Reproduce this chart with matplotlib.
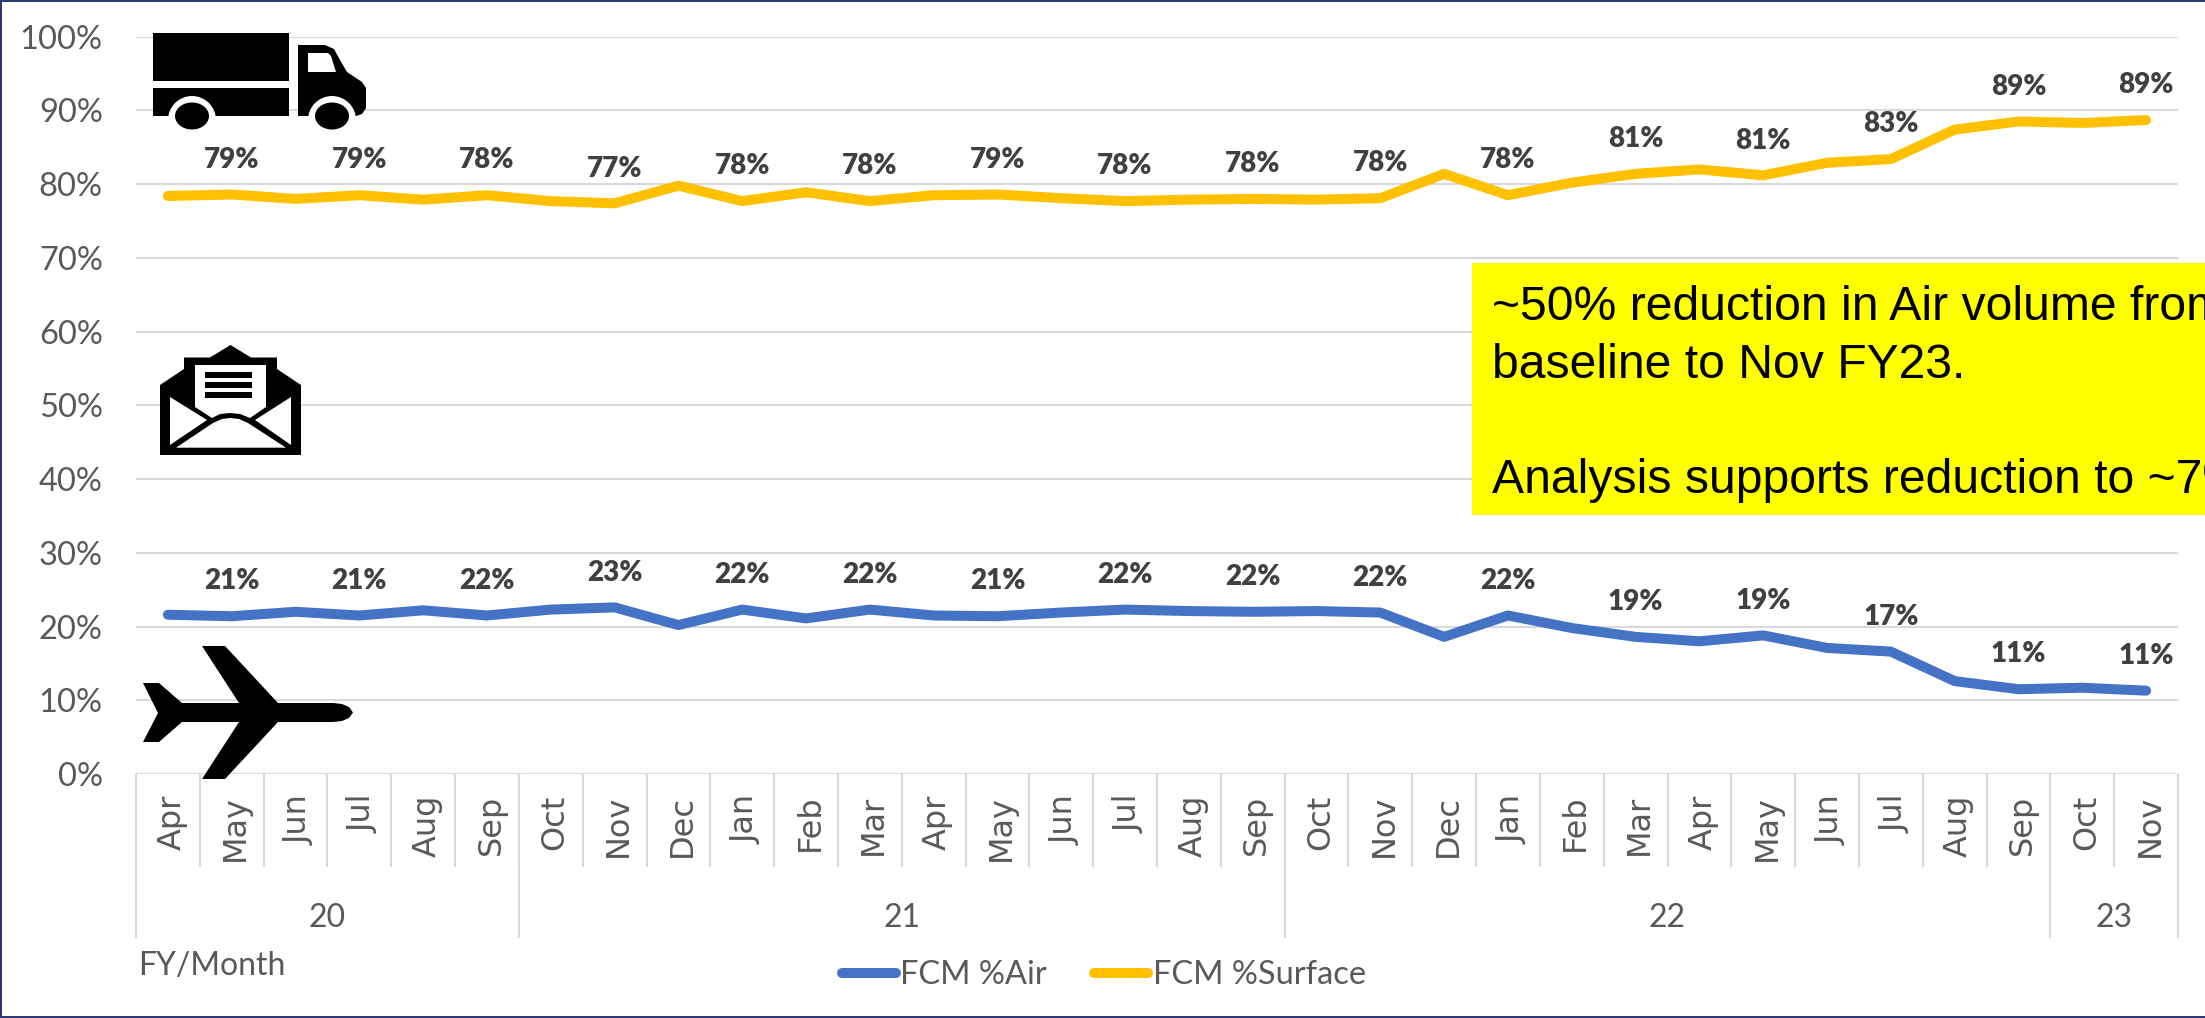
import matplotlib

matplotlib.use("Agg")
import numpy as np
import matplotlib.pyplot as plt
from matplotlib.patches import Ellipse, Polygon, Rectangle
from matplotlib.transforms import ScaledTranslation

months = ["Apr", "May", "Jun", "Jul", "Aug", "Sep",
          "Oct", "Nov", "Dec", "Jan", "Feb", "Mar", "Apr", "May", "Jun", "Jul", "Aug", "Sep",
          "Oct", "Nov", "Dec", "Jan", "Feb", "Mar", "Apr", "May", "Jun", "Jul", "Aug", "Sep",
          "Oct", "Nov"]
fy_labels = ["20", "21", "22", "23"]
fy_lengths = [6, 12, 12, 2]

air_pct = [21.6, 21.4, 22.0, 21.5, 22.2, 21.5, 22.3, 22.6, 20.2, 22.3, 21.1, 22.3, 21.5, 21.4, 21.9, 22.3,
           22.1, 22.0, 22.1, 21.9, 18.6, 21.5, 19.8, 18.6, 18.0, 18.8, 17.1, 16.6, 12.6, 11.5, 11.7, 11.3]
surface_pct = [78.4, 78.6, 78.0, 78.5, 77.9, 78.5, 77.7, 77.4, 79.8, 77.7, 78.9, 77.7, 78.5, 78.6, 78.1, 77.7,
               77.9, 78.0, 77.9, 78.1, 81.4, 78.5, 80.2, 81.4, 82.0, 81.2, 82.9, 83.4, 87.4, 88.5, 88.3, 88.7]

# only every second month has a label, starting from May
air_labels = ["21%", "21%", "22%", "23%", "22%", "22%", "21%", "22%",
              "22%", "22%", "22%", "19%", "19%", "17%", "11%", "11%"]
surface_labels = ["79%", "79%", "78%", "77%", "78%", "78%", "79%", "78%",
                  "78%", "78%", "78%", "81%", "81%", "83%", "89%", "89%"]

note_lines = ["~50% reduction in Air volume from", "baseline to Nov FY23.", "",
              "Analysis supports reduction to ~7%"]

W, H = 2205, 1018
GRID = "#D9D9D9"
TICK = "#595959"
LABEL = "#404040"
BLUE = "#4472C4"
GOLD = "#FFC000"
NAVY = "#2F3A6E"

plt.rcParams["font.family"] = ["Lato", "DejaVu Sans"]

fig = plt.figure(figsize=(W / 100, H / 100), dpi=100)
ax = fig.add_axes([136 / W, 1 - 774 / H, (2178 - 136) / W, (774 - 36.7) / H])

x = np.arange(len(months))
ax.set_xlim(-0.5, len(months) - 0.5)
ax.set_ylim(0, 100)
ax.set_yticks(np.arange(0, 101, 10))
ax.set_yticklabels([f"{v}%" for v in range(0, 101, 10)], fontsize=23.5, color=TICK)
ax.tick_params(axis="y", length=0, pad=24)
ax.grid(True, axis="y", color=GRID, linewidth=1.5)
ax.set_axisbelow(True)
for s in ax.spines.values():
    s.set_visible(False)

ax.plot(x, air_pct, color=BLUE, lw=7.2, solid_capstyle="round", solid_joinstyle="round", label="FCM %Air")
ax.plot(x, surface_pct, color=GOLD, lw=7.2, solid_capstyle="round", solid_joinstyle="round", label="FCM %Surface")

ax.set_xticks(x)
ax.set_xticklabels(months)
ax.tick_params(axis="x", length=0, pad=15)
for lab in ax.get_xticklabels():
    lab.set(rotation=90, fontsize=23, color=TICK, fontfamily="DejaVu Sans", va="top", ha="center")
    lab.set_transform(lab.get_transform() + ScaledTranslation(4 / 100, 0, fig.dpi_scale_trans))

for series, labels in [(air_pct, air_labels), (surface_pct, surface_labels)]:
    for i, txt in zip(x[1::2], labels):
        ax.annotate(txt, (i, series[i]), xytext=(0, 25), textcoords="offset points", ha="center", va="center",
                    fontsize=20, fontweight="heavy", color=LABEL)

# two level category axis under the plot
month_bottom = -(866.7 - 774) / 7.373
year_bottom = -(938 - 774) / 7.373
ax.axhline(0, color=GRID, lw=1.5, zorder=1)
edges = np.cumsum([0] + fy_lengths) - 0.5
ax.vlines(x[:-1] + 0.5, month_bottom, 0, color=GRID, lw=1.5, clip_on=False)
ax.vlines(edges, year_bottom, 0, color=GRID, lw=1.5, clip_on=False)
for name, left, n in zip(fy_labels, edges, fy_lengths):
    ax.text(left + n / 2, -(918 - 774) / 7.373, name, ha="center", va="center", fontsize=23, color=TICK)

fig.text(138 / W, 1 - 966 / H, "FY/Month", ha="left", va="center", fontsize=23, color=TICK)
fig.legend(loc="center", bbox_to_anchor=(1104 / W, 1 - 975 / H), ncols=2, frameon=False, fontsize=23.5,
           labelcolor=TICK, handlelength=1.65, handletextpad=0.15, columnspacing=1.45, borderpad=0)

# overlay in pixel coordinates for the note, the icons and the slide border
top = fig.add_axes([0, 0, 1, 1], facecolor="none")
top.set_xlim(0, W)
top.set_ylim(H, 0)
top.axis("off")

top.add_patch(Rectangle((1472, 263.4), W - 1472, 251.4, color="#FFFF00", lw=0))
top.text(1492, 394, "\n".join(note_lines), fontsize=34.7, family="Liberation Sans", color="black",
         ha="left", va="center", linespacing=1.36, clip_on=True)

# truck
top.add_patch(Rectangle((153, 33), 136, 48, color="black", lw=0))
top.add_patch(Rectangle((153, 88), 136, 28, color="black", lw=0))
top.add_patch(Polygon([(298, 45), (325, 45), (334, 49), (340, 60), (347, 72), (362, 82), (366, 88), (366, 108),
                       (362, 114), (356, 116), (298, 116)], color="black", lw=0))
top.add_patch(Polygon([(308, 53), (328, 53), (331, 56), (336, 72), (308, 72)], color="white", lw=0))
for cx in (192, 332):
    top.add_patch(Ellipse((cx, 120), 48, 48, color="white", lw=0))
    top.add_patch(Rectangle((cx - 24, 116), 48, 20, color="white", lw=0))
    top.add_patch(Ellipse((cx, 116), 34, 27, color="black", lw=0))

# envelope
top.add_patch(Polygon([(160, 385), (184, 369), (184, 357.5), (210, 357.5), (230.5, 345), (251, 357.5), (277, 357.5),
                       (277, 369), (301, 385), (301, 455), (160, 455)], color="black", lw=0))
top.add_patch(Polygon([(195, 365), (266, 365), (266, 407), (250, 418), (240, 414), (230, 413), (220, 414), (212, 418),
                       (195, 407)], color="white", lw=0))
for ly in (372, 382, 392):
    top.add_patch(Rectangle((205, ly), 47, 6, color="black", lw=0))
top.add_patch(Polygon([(170, 397), (207, 420), (170, 445)], color="white", lw=0))
top.add_patch(Polygon([(291, 397), (255, 420), (291, 445)], color="white", lw=0))
top.add_patch(Polygon([(176, 447.7), (213, 423), (222, 419), (230, 418), (239, 419), (248, 423), (286, 447.7)],
                      color="white", lw=0))

# plane
top.add_patch(Polygon([(143, 683), (159, 683), (182, 703), (239, 703), (202, 646), (225, 646), (278, 703), (333, 703),
                       (342, 704), (349, 707), (353, 712.5), (349, 718), (342, 721), (333, 722), (278, 722), (225, 779),
                       (202, 779), (239, 722), (182, 722), (159, 742), (143, 742), (158, 713)], color="black", lw=0))

# border of the slide, no edge on the right
top.add_patch(Rectangle((0, 0), W, 2, color=NAVY, lw=0))
top.add_patch(Rectangle((0, 0), 2, H, color=NAVY, lw=0))
top.add_patch(Rectangle((0, H - 2), W, 2, color=NAVY, lw=0))

fig.savefig("out.png", dpi=100)
